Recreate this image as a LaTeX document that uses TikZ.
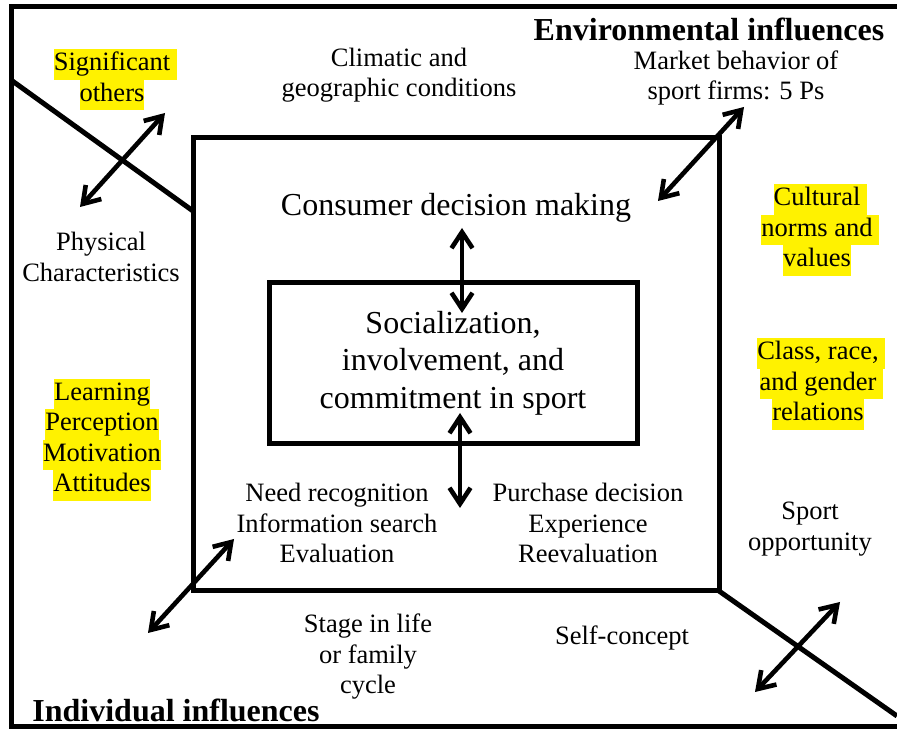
\documentclass[tikz,border=0pt]{standalone}
\usepackage{fontspec}
\setmainfont{Liberation Serif}
\usepackage{tikz}
\usetikzlibrary{arrows.meta}

\newcommand{\hilite}[1]{{\setlength{\fboxsep}{0pt}\colorbox{yellow}{\strut #1}}}
\newcommand{\hilitesp}[1]{\hilite{#1}\rlap{\hilite{\ }}}

\begin{document}
\begin{tikzpicture}[x=1pt,y=1pt,
        txt/.style={font=\fontsize{26.5}{30.5}\selectfont,align=center,inner sep=0pt},
        bigtxt/.style={font=\fontsize{32}{37.5}\selectfont,align=center,inner sep=0pt},
        headtxt/.style={font=\fontsize{32}{37.5}\selectfont\bfseries,inner sep=0pt},
        boxline/.style={line width=5pt},
        dbl/.style={line width=4.6pt,<->,>={Straight Barb[length=16pt,width=21pt]}}]
        \useasboundingbox (0,0) rectangle (897,730);

        \draw[boxline] (897,723) -- (11,723) -- (11,3) -- (897,3);
        \draw[boxline] (193,139) rectangle (719,592);
        \draw[boxline] (11,650) -- (193,519);
        \draw[boxline] (719,139) -- (897,14);

        \node[bigtxt,draw,boxline,minimum width=368pt,minimum height=161pt] (social) at (453,367)
            {Socialization,\\involvement, and\\commitment in sport};
        \node[bigtxt] (consumer) at (456,522) {Consumer decision making};

        \node[headtxt] (envlbl) at (709,701) {Environmental influences};
        \node[headtxt] (indlbl) at (176,20) {Individual influences};

        \node[txt] (climate) at (399,655) {Climatic and\\geographic conditions};
        \node[txt] (market) at (736,652) {Market behavior of\\sport firms: 5 Ps};
        \node[txt] (others) at (112,650) {\hilitesp{Significant}\\\hilite{others}};
        \node[txt] (physical) at (101,473) {Physical\\Characteristics};
        \node[txt] (cultural) at (817,500) {\hilitesp{Cultural}\\\hilitesp{norms and}\\\hilite{values}};
        \node[txt] (classrace) at (818,346) {\hilitesp{Class, race,}\\\hilitesp{and gender}\\\hilite{relations}};
        \node[txt] (learning) at (102,290) {\hilite{Learning}\\\hilite{Perception}\\\hilite{Motivation}\\\hilite{Attitudes}};
        \node[txt] (need) at (337,207) {Need recognition\\Information search\\Evaluation};
        \node[txt] (purchase) at (588,207) {Purchase decision\\Experience\\Reevaluation};
        \node[txt] (sport) at (810,201) {Sport\\opportunity};
        \node[txt] (stage) at (368,73) {Stage in life\\or family\\cycle};
        \node[txt] (self) at (622,92) {Self-concept};

        \coordinate (physEnd) at (80,523);
        \coordinate (othersEnd) at (165,617);
        \coordinate (decisionEnd) at (658,529);
        \coordinate (marketEnd) at (744,623);
        \coordinate (upperTop) at (462,502);
        \coordinate (upperBot) at (462,417);
        \coordinate (lowerTop) at (460,317);
        \coordinate (lowerBot) at (460,222);
        \coordinate (stageEnd) at (148,97);
        \coordinate (needEnd) at (234,191);
        \coordinate (selfEnd) at (755,38);
        \coordinate (sportEnd) at (840,128);

        \draw[dbl] (physEnd) -- (othersEnd);
        \draw[dbl] (decisionEnd) -- (marketEnd);
        \draw[dbl] (upperTop) -- (upperBot);
        \draw[dbl] (lowerTop) -- (lowerBot);
        \draw[dbl] (stageEnd) -- (needEnd);
        \draw[dbl] (selfEnd) -- (sportEnd);
    \end{tikzpicture}
\end{document}
